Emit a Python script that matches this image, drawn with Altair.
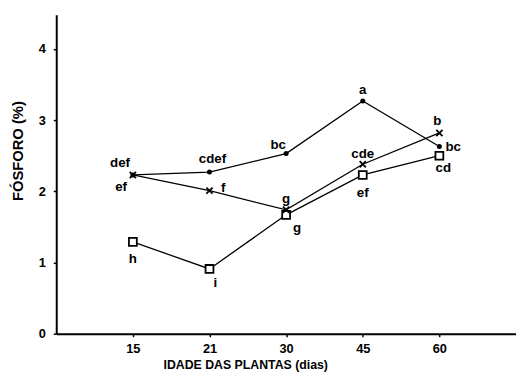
import altair as alt
import pandas as pd

# ---- data ----
days = ["15", "21", "30", "45", "60"]
fosforo_circulo = [2.23, 2.27, 2.53, 3.27, 2.63]
fosforo_x = [2.23, 2.01, 1.74, 2.38, 2.82]
fosforo_quadrado = [1.29, 0.91, 1.67, 2.23, 2.50]
letras_circulo = ["def", "cdef", "bc", "a", "bc"]
letras_x = ["ef", "f", "g", "cde", "b"]
letras_quadrado = ["h", "i", "g", "ef", "cd"]
y_ticks = [0, 1, 2, 3, 4]

series = {
    "circulo": (fosforo_circulo, letras_circulo),
    "x": (fosforo_x, letras_x),
    "quadrado": (fosforo_quadrado, letras_quadrado),
}
rows = []
for s, (vals, labs) in series.items():
    for i, (d, v, l) in enumerate(zip(days, vals, labs)):
        rows.append({"serie": s, "dia": d, "ordem": i, "p": v, "letra": l})
df = pd.DataFrame(rows)

# ---- styling: label offsets (pixels) relative to their point ----
label_offsets = {
    ("circulo", "15"): (-13, -12), ("circulo", "21"): (3, -13), ("circulo", "30"): (-8, -9),
    ("circulo", "45"): (0, -11), ("circulo", "60"): (14, 1),
    ("x", "15"): (-12, 12), ("x", "21"): (14, -3), ("x", "30"): (0, -11),
    ("x", "45"): (0, -10), ("x", "60"): (-2, -12),
    ("quadrado", "15"): (0, 17), ("quadrado", "21"): (6, 14), ("quadrado", "30"): (11, 13),
    ("quadrado", "45"): (0, 18), ("quadrado", "60"): (4, 13),
}

FONT = "Liberation Sans"

x_enc = alt.X(
    "dia:O", sort=days,
    scale=alt.Scale(type="point", padding=1),
    axis=alt.Axis(
        title="IDADE DAS PLANTAS (dias)", labelAngle=0, grid=False,
        domainColor="black", domainWidth=2, tickColor="black", tickSize=3, tickWidth=1.5,
        labelPadding=6, labelFont=FONT, labelFontSize=13, labelFontWeight="bold", labelColor="black",
        titleFont=FONT, titleFontSize=12.5, titleFontWeight="bold", titleColor="black",
        titleX=192, titleY=35, titleBaseline="alphabetic", titleAlign="center",
    ),
)
y_enc = alt.Y(
    "p:Q",
    scale=alt.Scale(domain=[0, 4.48], nice=False, zero=True),
    axis=alt.Axis(
        values=y_ticks, title="FÓSFORO (%)", grid=False,
        domainColor="black", domainWidth=2, tickColor="black", tickSize=3, tickWidth=1.5,
        labelPadding=8, labelFont=FONT, labelFontSize=13, labelFontWeight="bold", labelColor="black",
        titleFont=FONT, titleFontSize=15, titleFontWeight="bold", titleColor="black",
        titleX=-39, titleY=138, titleBaseline="middle", titleAlign="center", titleAngle=270,
    ),
)

base = alt.Chart(df)

lines = base.mark_line(color="black", strokeWidth=1.3).encode(
    x=x_enc, y=y_enc, detail="serie:N", order="ordem:Q"
)

circles = base.transform_filter(alt.datum.serie == "circulo").mark_point(
    shape="circle", filled=True, size=26, color="black", opacity=1
).encode(x=x_enc, y=y_enc)

crosses = base.transform_filter(alt.datum.serie == "x").mark_point(
    shape="M-1,-1L1,1M-1,1L1,-1", filled=False, size=40, color="black", strokeWidth=1.8, opacity=1
).encode(x=x_enc, y=y_enc)

squares = base.transform_filter(alt.datum.serie == "quadrado").mark_point(
    shape="square", filled=True, fill="white", stroke="black", strokeWidth=1.8, size=64, opacity=1
).encode(x=x_enc, y=y_enc)

text_layers = []
for (s, d), (dx, dy) in label_offsets.items():
    text_layers.append(
        base.transform_filter((alt.datum.serie == s) & (alt.datum.dia == d))
        .mark_text(dx=dx, dy=dy, font=FONT, fontSize=13.5, fontWeight="bold",
                   color="black", align="center", baseline="middle")
        .encode(x=x_enc, y=y_enc, text="letra:N")
    )

chart = alt.layer(lines, squares, crosses, circles, *text_layers).properties(
    width=467, height=324,
    autosize=alt.AutoSizeParams(type="none"),
    padding={"left": 49, "top": 4, "right": 0, "bottom": 36},
    background="white",
).configure_view(stroke=None)

chart.save("out.html", embed_options={"renderer": "svg", "actions": False})
